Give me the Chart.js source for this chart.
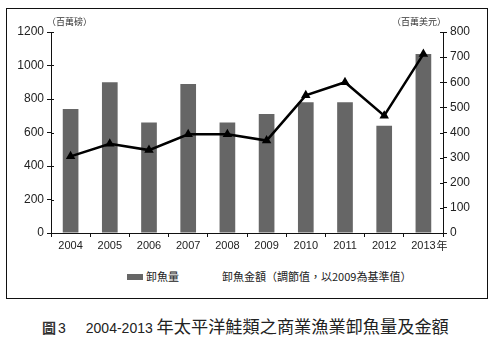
<!DOCTYPE html>
<html>
<head>
<meta charset="utf-8">
<script src="https://cdn.jsdelivr.net/npm/chart.js@4"></script>
<style>
  body { margin: 0; width: 492px; height: 341px; background: #fff; position: relative; overflow: hidden; }
  #frame { position: absolute; left: 6px; top: 8px; width: 480px; height: 289px; border: 1px solid #111; }
  #chart { position: absolute; left: 0; top: 0; }
  .legend { position: absolute; top: 259px; font: 11px "Noto Sans CJK TC", sans-serif; color: #222; line-height: 16px; white-space: nowrap; }
  .swatch { position: absolute; left: 120px; top: 265px; width: 16px; height: 6px; background: #666; }
  #caption { position: absolute; left: 42px; top: 313px; white-space: nowrap; color: #222; line-height: 24px; }
  #caption .fig { font: bold 14px "Noto Sans CJK TC", sans-serif; color: #333; }
  #caption .num { font: 14px "Liberation Sans", Arial, sans-serif; }
  #caption .cjk { font: 17.2px "Noto Sans CJK TC", sans-serif; }
</style>
</head>
<body>
<div id="frame">
  <canvas id="chart" width="480" height="250"></canvas>
  <div class="swatch"></div>
  <div class="legend" style="left:139px">卸魚量</div>
  <div class="legend" style="left:215px">卸魚金額（調節值，以2009為基準值）</div>
</div>
<div id="caption"><span class="fig">圖</span><span class="num" style="margin-left:2px">3</span><span class="num" style="margin-left:20px">2004-2013</span><span class="cjk"> 年太平洋鮭類之商業漁業卸魚量及金額</span></div>

<script>
const years = ['2004', '2005', '2006', '2007', '2008', '2009', '2010', '2011', '2012', '2013'];
// 卸魚量（百萬磅）
const landings = [740, 900, 660, 890, 660, 710, 780, 780, 640, 1068];
// 卸魚金額（百萬美元，以2009為基準）
const landingValue = [305, 355, 330, 393, 393, 368, 548, 600, 467, 712];

const numFont = { family: '"Liberation Sans", Arial, sans-serif', size: 12 };
const plain = v => String(v);

// unit labels, the 年 after the last year, and the inner half of the y ticks
const extras = {
    id: 'extras',
    afterDraw(chart) {
        const ctx = chart.ctx;
        const area = chart.chartArea;
        ctx.save();
        ctx.fillStyle = '#333';
        ctx.font = '9px "Noto Sans CJK TC", sans-serif';
        ctx.textBaseline = 'middle';
        ctx.textAlign = 'left';
        ctx.fillText('（百萬磅）', area.left - 4, area.top - 10);
        ctx.textAlign = 'right';
        ctx.fillText('（百萬美元）', area.right + 3, area.top - 10);

        const x = chart.scales.x;
        ctx.fillStyle = '#222';
        ctx.font = '11px "Noto Sans CJK TC", sans-serif';
        ctx.textAlign = 'left';
        ctx.fillText('年', x.getPixelForValue(years.length - 1) + 13, area.bottom + 13);

        ctx.strokeStyle = '#111';
        ctx.lineWidth = 1;
        ['y', 'y1'].forEach(id => {
            const s = chart.scales[id];
            const dir = s.position === 'left' ? 1 : -1;
            const ax = s.position === 'left' ? area.left : area.right;
            s.ticks.forEach(t => {
                const py = Math.round(s.getPixelForValue(t.value)) + 0.5;
                ctx.beginPath();
                ctx.moveTo(ax, py);
                ctx.lineTo(ax + dir * 3, py);
                ctx.stroke();
            });
        });
        ctx.restore();
    }
};

new Chart(document.getElementById('chart'), {
    data: {
        labels: years,
        datasets: [{
            type: 'line',
            label: '卸魚金額（調節值，以2009為基準值）',
            data: landingValue,
            yAxisID: 'y1',
            borderColor: '#000',
            backgroundColor: '#000',
            borderWidth: 2.5,
            pointStyle: 'triangle',
            pointRadius: 3,
            pointHoverRadius: 3,
            tension: 0,
            order: 0
        }, {
            type: 'bar',
            label: '卸魚量',
            data: landings,
            yAxisID: 'y',
            backgroundColor: '#666',
            categoryPercentage: 1,
            barPercentage: 0.4,
            order: 1
        }]
    },
    options: {
        responsive: false,
        animation: false,
        devicePixelRatio: 1,
        layout: { padding: { top: 23, left: 0, right: 0, bottom: 0 } },
        plugins: {
            legend: { display: false },
            tooltip: { enabled: false }
        },
        scales: {
            x: {
                offset: true,
                afterFit(scale) { scale.height = 26; },
                grid: { offset: true, drawOnChartArea: false, tickLength: 4, color: '#111' },
                border: { color: '#111', width: 1 },
                ticks: { font: { family: numFont.family, size: 11 }, color: '#222', padding: 2, maxRotation: 0 }
            },
            y: {
                position: 'left',
                min: 0,
                max: 1200,
                afterFit(scale) { scale.width = 44; },
                grid: { drawOnChartArea: false, tickLength: 4, color: '#111' },
                border: { color: '#111', width: 1 },
                ticks: { stepSize: 200, font: numFont, color: '#222', padding: 3, callback: plain }
            },
            y1: {
                position: 'right',
                min: 0,
                max: 800,
                afterFit(scale) { scale.width = 44; },
                grid: { drawOnChartArea: false, tickLength: 4, color: '#111' },
                border: { color: '#111', width: 1 },
                ticks: { stepSize: 100, font: numFont, color: '#222', padding: 3, callback: plain }
            }
        }
    },
    plugins: [extras]
});
</script>
</body>
</html>
